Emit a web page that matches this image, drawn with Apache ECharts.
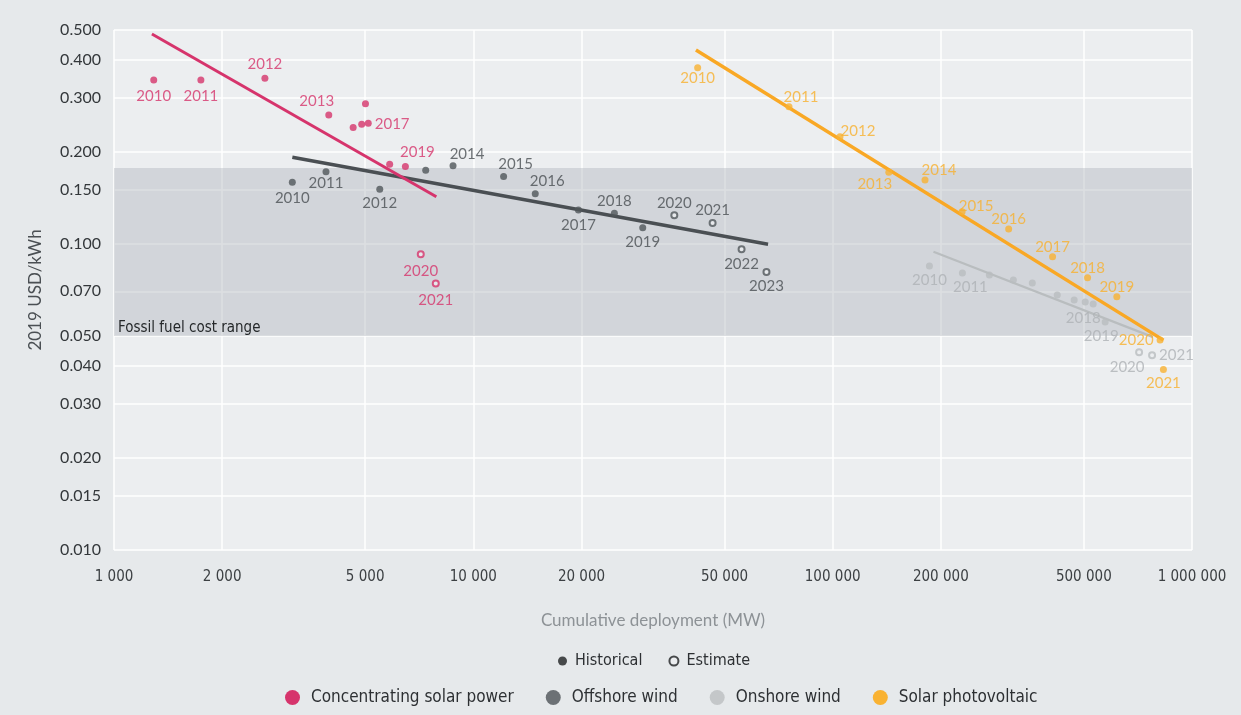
<!DOCTYPE html>
<html><head><meta charset="utf-8">
<script src="https://cdn.jsdelivr.net/npm/echarts@6/dist/echarts.min.js"></script>
<style>html,body{margin:0;padding:0;background:#e6e9eb}#c{width:1241px;height:715px}</style>
</head><body><div id="c"></div>
<script>
// ---- tick labels ----
const xTicks = [1000, 2000, 5000, 10000, 20000, 50000, 100000, 200000, 500000, 1000000];
const yTicks = [0.01, 0.015, 0.02, 0.03, 0.04, 0.05, 0.07, 0.1, 0.15, 0.2, 0.3, 0.4, 0.5];
const fossilRange = [0.05, 0.177];

// ---- Concentrating solar power ----
const cspYears = [2010, 2011, 2012, 2013, 2014, 2015, 2016, 2017, 2018, 2019, 2020, 2021];
const cspDeployment = [1290, 1745, 2630, 3960, 4630, 4890, 5010, 5100, 5850, 6470, 7140, 7860];
const cspCost = [0.343, 0.343, 0.348, 0.264, 0.240, 0.246, 0.287, 0.248, 0.182, 0.179, 0.0925, 0.0743];
const cspEstimated = [2020, 2021];
const cspTrendDeployment = [1275, 7890];
const cspTrendCost = [0.485, 0.1426];

// ---- Offshore wind ----
const offYears = [2010, 2011, 2012, 2013, 2014, 2015, 2016, 2017, 2018, 2019, 2020, 2021, 2022, 2023];
const offDeployment = [3135, 3890, 5490, 7370, 8780, 12140, 14870, 19610, 24690, 29610, 36250, 46330, 55780, 65430];
const offCost = [0.159, 0.172, 0.151, 0.174, 0.180, 0.166, 0.146, 0.129, 0.126, 0.113, 0.124, 0.117, 0.096, 0.081];
const offEstimated = [2020, 2021, 2022, 2023];
const offTrendDeployment = [3135, 66100];
const offTrendCost = [0.192, 0.0997];

// ---- Onshore wind ----
const onYears = [2010, 2011, 2012, 2013, 2014, 2015, 2016, 2017, 2018, 2019, 2020, 2021];
const onDeployment = [185900, 229600, 273000, 318300, 359400, 421700, 470000, 504500, 530900, 573300, 712500, 774300];
const onCost = [0.0847, 0.0803, 0.0791, 0.0762, 0.0745, 0.0681, 0.0656, 0.0646, 0.0636, 0.0556, 0.0443, 0.0433];
const onEstimated = [2020, 2021];
const onTrendDeployment = [190800, 779200];
const onTrendCost = [0.0943, 0.0496];

// ---- Solar photovoltaic ----
const pvYears = [2010, 2011, 2012, 2013, 2014, 2015, 2016, 2017, 2018, 2019, 2020, 2021];
const pvDeployment = [42100, 75600, 104800, 143300, 180700, 229200, 308900, 409200, 512100, 617700, 815000, 832600];
const pvCost = [0.3765, 0.2807, 0.224, 0.1714, 0.1618, 0.1274, 0.1119, 0.0908, 0.0775, 0.0672, 0.0485, 0.0389];
const pvEstimated = [];
const pvTrendDeployment = [41640, 832600];
const pvTrendCost = [0.430, 0.0485];

// ---- presentation ----
const plotBg = '#eceef0';
const C = { csp: '#d6346c', off: '#50565a', on: '#b9bdbf', pv: '#f9b232' };
const LBL = { csp: '#d6346c', off: '#4a4f53', on: '#aeb2b5', pv: '#f7b02e' };
// label placement per point (null = no label): [position, dx, dy]
const cspLab = [['bottom',0,2],['bottom',0,2],['top',0,0],['top',-12,0],null,null,null,['right',0,1],null,['top',12,0],['bottom',0,2],['bottom',0,2]];
const offLab = [['bottom',0,2],['bottom',0,-3],['bottom',0,0],null,['top',14,2],['top',12,2],['top',12,2],['bottom',0,1],['top',0,2],['bottom',0,0],['top',0,2],['top',0,2],['bottom',0,0],['bottom',0,0]];
const onLab = [['bottom',0,0],['bottom',8,0],null,null,null,null,null,null,['bottom',-10,0],['bottom',-4,0],['bottom',-12,0],['right',0,0]];
const pvLab = [['bottom',0,-4],['top',12,4],['top',18,8],['bottom',-14,-2],['top',14,4],['top',14,8],['top',0,4],['top',0,4],['top',0,4],['top',0,4],['left',0,0],['bottom',0,0]];

function techSeries(name, color, lblColor, years, dep, cost, est, lab) {
  return {
    type: 'scatter', name: name, symbol: 'circle', symbolSize: 7, z: 5,
    itemStyle: { color: color },
    label: { color: lblColor, fontFamily: 'Lato', fontSize: 15, formatter: p => p.data.year },
    data: years.map((y, i) => {
      const isEst = est.indexOf(y) >= 0;
      const l = lab[i];
      return {
        value: [dep[i], cost[i]], year: y,
        itemStyle: isEst ? { color: plotBg, borderColor: color, borderWidth: 2 } : { color: color },
        symbolSize: isEst ? 6 : 7,
        label: l ? { show: true, position: l[0], distance: 3, offset: [l[1], l[2]] } : { show: false }
      };
    })
  };
}
function trend(name, color, width, dep, cost) {
  return {
    type: 'line', name: name, symbol: 'none', z: 4, silent: true,
    lineStyle: { color: color, width: width },
    itemStyle: { color: color },
    data: dep.map((d, i) => [d, cost[i]])
  };
}
const fmtX = v => String(Math.round(v)).replace(/\B(?=(\d{3})+(?!\d))/g, ' ');
const narrow = "'Liberation Sans Narrow', 'DejaVu Sans Condensed', sans-serif";

const chart = echarts.init(document.getElementById('c'), null, { renderer: 'canvas' });
chart.setOption({
  backgroundColor: '#e6e9eb',
  animation: false,
  grid: { left: 114, right: 49, top: 30, bottom: 165, show: true, backgroundColor: plotBg, borderWidth: 0 },
  xAxis: {
    type: 'log', logBase: 10, min: 1000, max: 1000000,
    name: 'Cumulative deployment (MW)', nameLocation: 'middle', nameGap: 62,
    nameTextStyle: { color: '#8d9296', fontSize: 17, fontFamily: 'Lato' },
    axisLine: { show: false }, axisTick: { show: false, customValues: xTicks },
    axisLabel: { customValues: xTicks, formatter: fmtX, color: '#3c4043', fontSize: 15, fontFamily: narrow, margin: 20 },
    splitLine: { show: true, lineStyle: { color: '#ffffff', width: 1.5 } }
  },
  yAxis: {
    type: 'log', logBase: 10, min: 0.01, max: 0.5,
    name: '2019 USD/kWh', nameLocation: 'middle', nameGap: 70, nameRotate: 90,
    nameTextStyle: { color: '#4a4f53', fontSize: 17, fontFamily: 'Lato' },
    axisLine: { show: false }, axisTick: { show: false, customValues: yTicks },
    axisLabel: { customValues: yTicks, formatter: v => Number(v).toFixed(3), color: '#33373a', fontSize: 16, fontFamily: 'Lato', margin: 13 },
    splitLine: { show: true, lineStyle: { color: '#ffffff', width: 1.5 } }
  },
  legend: [
    {
      top: 648, left: 553, itemWidth: 9, itemHeight: 9, itemGap: 26, icon: 'circle',
      textStyle: { color: '#2d3033', fontSize: 16, fontFamily: narrow, padding: [0, 0, 0, 3] },
      data: [
        { name: 'Historical', itemStyle: { color: '#1e2022' } },
        { name: 'Estimate', itemStyle: { color: plotBg, borderColor: '#1e2022', borderWidth: 2 } }
      ]
    },
    {
      top: 684, left: 280, itemWidth: 15, itemHeight: 15, itemGap: 32, icon: 'circle',
      textStyle: { color: '#2d3033', fontSize: 17, fontFamily: narrow, padding: [0, 0, 0, 6] },
      data: [
        { name: 'Concentrating solar power', itemStyle: { color: C.csp } },
        { name: 'Offshore wind', itemStyle: { color: '#6c7175' } },
        { name: 'Onshore wind', itemStyle: { color: '#c4c7c9' } },
        { name: 'Solar photovoltaic', itemStyle: { color: C.pv } }
      ]
    }
  ],
  series: [
    {
      type: 'line', name: 'band', data: [], silent: true,
      markArea: {
        silent: true,
        itemStyle: { color: 'rgba(178,183,188,0.44)' },
        label: { show: true, position: 'insideBottomLeft', color: '#25282a', fontSize: 15, fontFamily: narrow, distance: 4, offset: [0, 4] },
        data: [[{ yAxis: fossilRange[0], xAxis: 1000, name: 'Fossil fuel cost range' }, { yAxis: fossilRange[1], xAxis: 1000000 }]]
      }
    },
    trend('Onshore wind', C.on, 2.2, onTrendDeployment, onTrendCost),
    trend('Offshore wind', '#4a4f53', 3.5, offTrendDeployment, offTrendCost),
    trend('Concentrating solar power', C.csp, 3, cspTrendDeployment, cspTrendCost),
    trend('Solar photovoltaic', '#f9a825', 3.5, pvTrendDeployment, pvTrendCost),
    techSeries('Onshore wind', C.on, LBL.on, onYears, onDeployment, onCost, onEstimated, onLab),
    techSeries('Offshore wind', C.off, LBL.off, offYears, offDeployment, offCost, offEstimated, offLab),
    techSeries('Concentrating solar power', C.csp, LBL.csp, cspYears, cspDeployment, cspCost, cspEstimated, cspLab),
    techSeries('Solar photovoltaic', C.pv, LBL.pv, pvYears, pvDeployment, pvCost, pvEstimated, pvLab),
    { type: 'scatter', name: 'Historical', data: [] },
    { type: 'scatter', name: 'Estimate', data: [] }
  ]
});
</script></body></html>
